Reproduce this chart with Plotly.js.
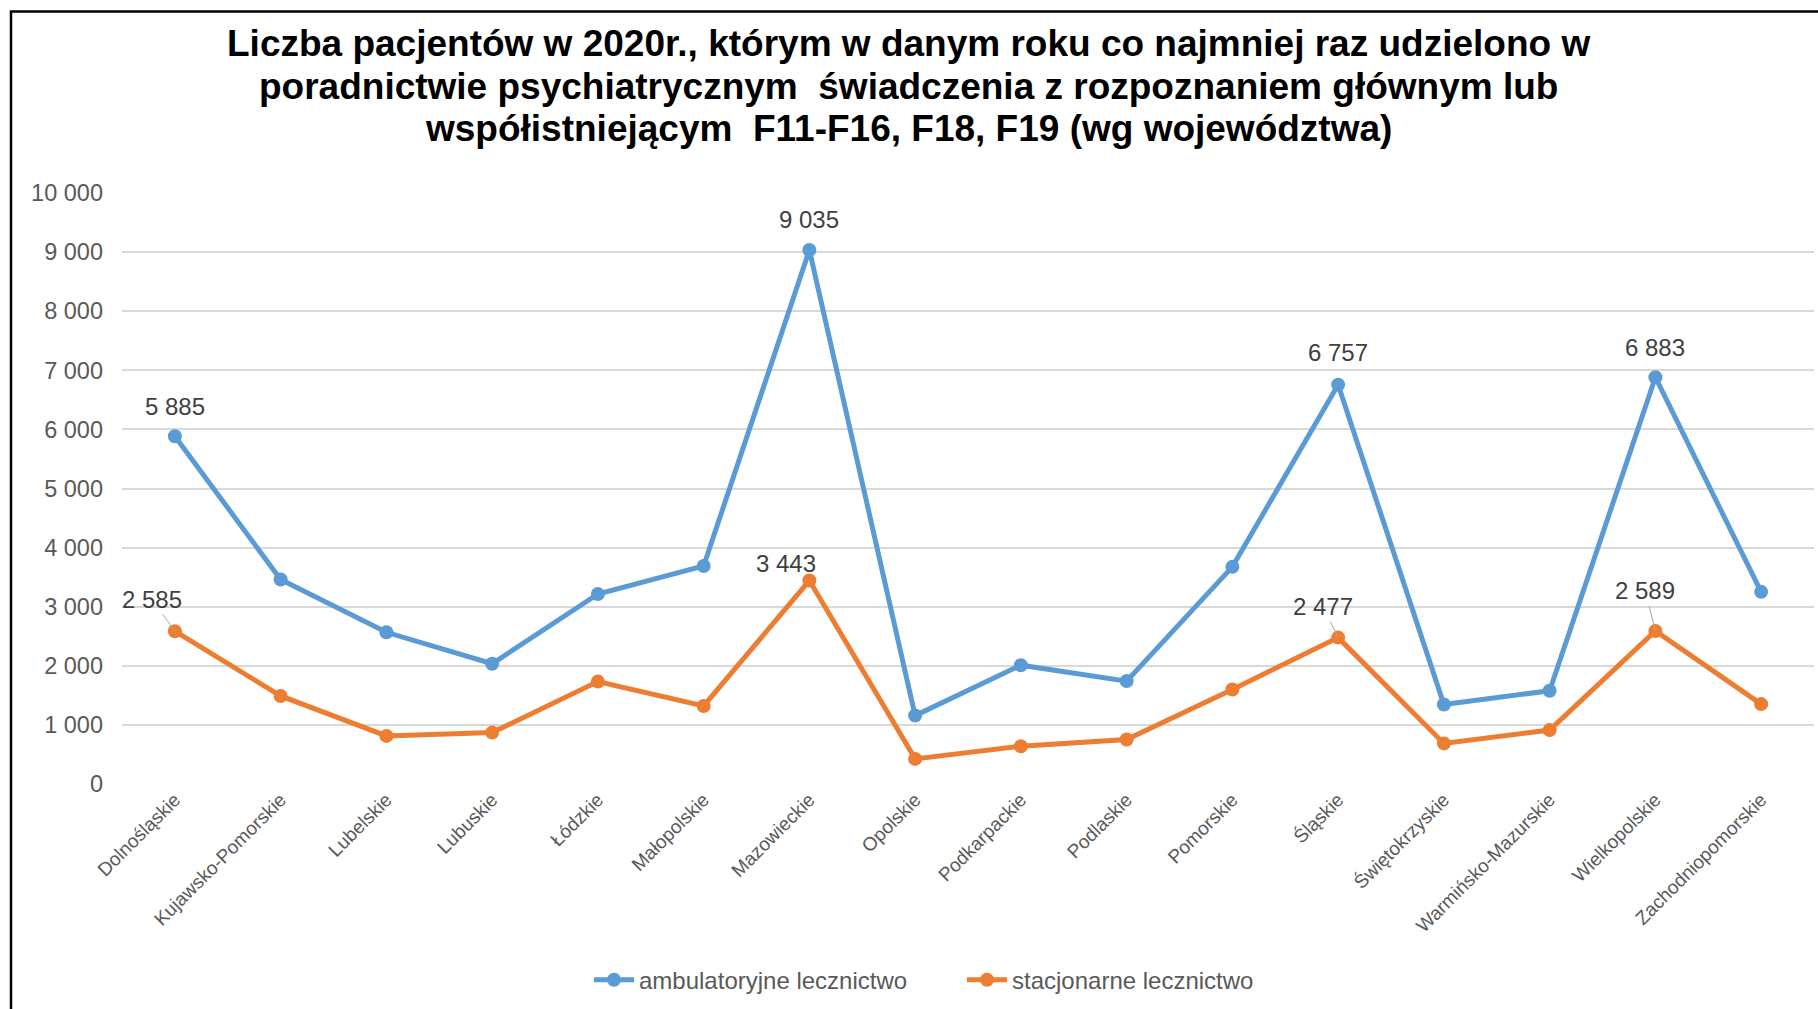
<!DOCTYPE html>
<html>
<head>
<meta charset="utf-8">
<script src="https://cdn.plot.ly/plotly-3.0.1.min.js"></script>
<style>
html,body{margin:0;padding:0;background:#fff;}
#chart{width:1818px;height:1009px;}
</style>
</head>
<body>
<div id="chart"></div>
<script>
const categories = ["Dolnośląskie","Kujawsko-Pomorskie","Lubelskie","Lubuskie","Łódzkie","Małopolskie","Mazowieckie","Opolskie","Podkarpackie","Podlaskie","Pomorskie","Śląskie","Świętokrzyskie","Warmińsko-Mazurskie","Wielkopolskie","Zachodniopomorskie"];
const seriesNames = ["ambulatoryjne lecznictwo","stacjonarne lecznictwo"];
const ambulatoryjne = [5885,3460,2567,2035,3215,3689,9035,1158,2010,1741,3674,6757,1346,1577,6883,3251];
const stacjonarne = [2585,1490,814,870,1733,1321,3443,425,640,754,1600,2477,687,912,2589,1352];
const yTickVals = [0,1000,2000,3000,4000,5000,6000,7000,8000,9000,10000];
const titleLines = [
  "Liczba pacjentów w 2020r., którym w danym roku co najmniej raz udzielono w",
  "poradnictwie psychiatrycznym  świadczenia z rozpoznaniem głównym lub",
  "współistniejącym  F11-F16, F18, F19 (wg województwa)"
];

function fmt(v){ return String(v).replace(/\B(?=(\d{3})+(?!\d))/g, " "); }

const L=122, R=4, T=192.5, B=225.2;
const pw = 1818-L-R, ph = 1009-T-B;
const FONT = 'Liberation Sans, Arial, sans-serif';

// label placement (styling): [seriesIndex, pointIndex, dx, dy, leader]
const labelPlacement = [
  [0,0,0,-30,false],[0,6,0,-31,false],[0,11,0,-32,false],[0,14,0,-30,false],
  [1,6,-23,-17,false],[1,0,-23,-32,true],[1,11,-15,-31,true],[1,14,-10,-40,true]
];
const seriesData = [ambulatoryjne, stacjonarne];

const annotations = labelPlacement.map(([s,i,dx,dy,leader]) => {
  const a = {
    x: categories[i], y: seriesData[s][i], xref:'x', yref:'y',
    text: fmt(seriesData[s][i]),
    font:{family:FONT, size:24, color:'#404040'}
  };
  if (leader) {
    Object.assign(a, {showarrow:true, arrowhead:0, arrowwidth:1, arrowcolor:'#a6a6a6', ax:dx, ay:dy, standoff:0});
  } else {
    Object.assign(a, {showarrow:false, xshift:dx, yshift:-dy});
  }
  return a;
});

// title lines (positioned in pixels from top)
const titleCenters = [43, 86, 128];
titleLines.forEach((t, k) => {
  annotations.push({
    text: t, xref:'paper', yref:'paper', x:(908-L)/pw, y:(783.8-titleCenters[k])/ph,
    xanchor:'center', yanchor:'middle', showarrow:false,
    font:{family:FONT, size:37, color:'#000', weight:'bold'}
  });
});

const traces = [
  {x:categories, y:ambulatoryjne, name:seriesNames[0], type:'scatter', mode:'lines+markers',
   line:{color:'#5B9BD5', width:5}, marker:{color:'#5B9BD5', size:14}},
  {x:categories, y:stacjonarne, name:seriesNames[1], type:'scatter', mode:'lines+markers',
   line:{color:'#ED7D31', width:5}, marker:{color:'#ED7D31', size:14}}
];

const layout = {
  width:1818, height:1009,
  margin:{l:L, r:R, t:T, b:B, pad:0},
  paper_bgcolor:'#fff', plot_bgcolor:'#fff',
  separators:', ',
  font:{family:FONT, color:'#595959'},
  xaxis:{type:'category', range:[-0.5,15.5], showgrid:false, zeroline:false, showline:false,
         tickangle:-45, tickfont:{size:19, color:'#595959'}, ticks:'', fixedrange:true},
  yaxis:{range:[0,10000], tickvals:yTickVals, separatethousands:true, tickformat:',d',
         showgrid:true, gridcolor:'#d9d9d9', gridwidth:2, zeroline:false, showline:false,
         tickfont:{size:23.5, color:'#595959'}, ticks:'', ticklabelstandoff:18},
  showlegend:true,
  legend:{orientation:'h', x:(962-L)/pw, xanchor:'center', y:(783.8-980)/ph, yanchor:'middle',
          font:{size:24, color:'#595959'}, itemwidth:40, entrywidth:318, entrywidthmode:'pixels'},
  annotations: annotations,
  shapes:[{type:'rect', xref:'paper', yref:'paper', x0:(11-L)/pw, x1:1.1, y0:-0.5, y1:(783.8-11)/ph,
           line:{color:'#000', width:2.5}, fillcolor:'rgba(0,0,0,0)', layer:'above'}]
};

Plotly.newPlot('chart', traces, layout, {displayModeBar:false, staticPlot:true});
</script>
</body>
</html>
